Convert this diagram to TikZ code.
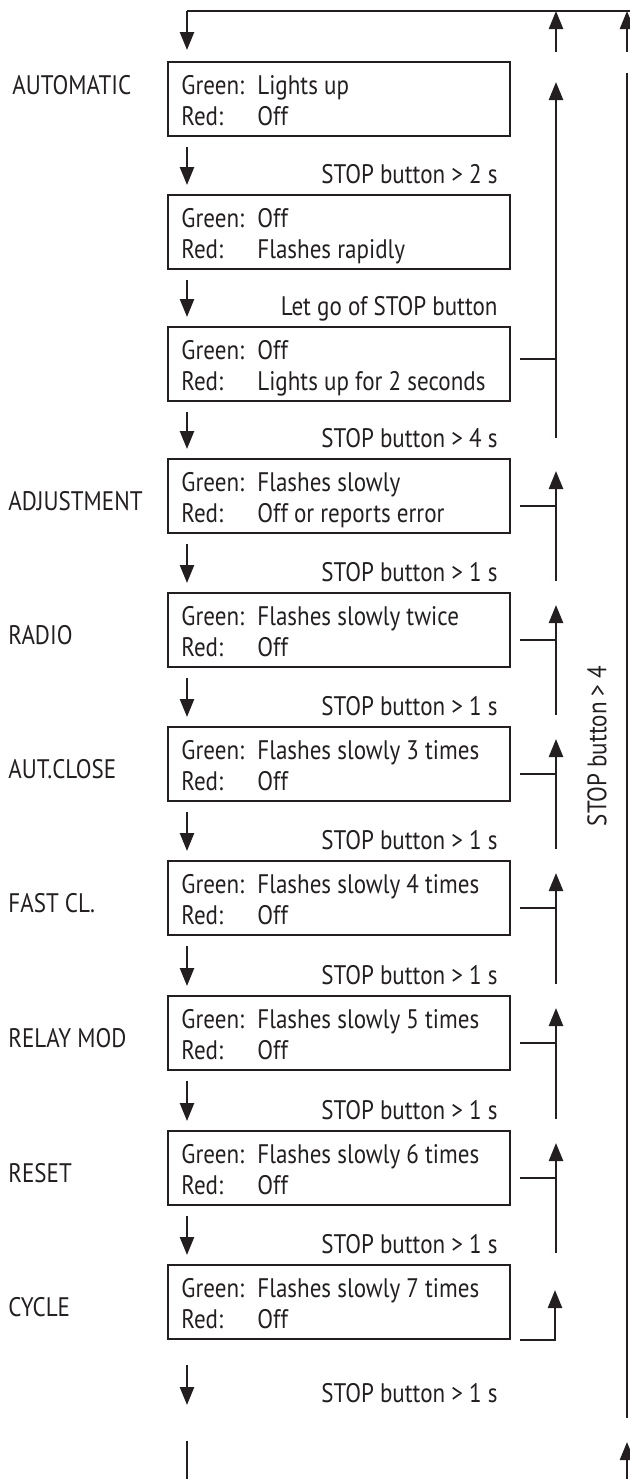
\documentclass[tikz,border=0pt]{standalone}
\usepackage{fontspec}
\setmainfont{PT Sans}[FakeStretch=0.86]
\usetikzlibrary{arrows.meta}
\definecolor{ink}{HTML}{231F20}
\begin{document}
\begin{tikzpicture}[x=0.5pt,y=-0.5pt,
  font=\fontsize{13.4pt}{15.5pt}\selectfont, color=ink,
  box/.style={draw, line width=1.4pt, minimum width=171pt, minimum height=37pt, anchor=north west, inner sep=0pt, outer sep=0pt},
  txt/.style={anchor=base west, inner sep=0pt},
  lbl/.style={anchor=base east, inner sep=0pt},
  mode/.style={anchor=base west, inner sep=0pt},
  conn/.style={line width=1.25pt},
  arr/.style={conn, -{Triangle[length=9pt,width=7pt]}},
]
\useasboundingbox (0,0) rectangle (630,1479);
% boxes
\foreach \k/\t/\g/\r in {1/62/Lights up/Off, 2/195/Off/Flashes rapidly, 3/327/Off/Lights up for 2 seconds, 4/459/Flashes slowly/Off or reports error, 5/593/Flashes slowly twice/Off, 6/727/Flashes slowly 3 times/Off, 7/861/Flashes slowly 4 times/Off, 8/996/Flashes slowly 5 times/Off, 9/1131/Flashes slowly 6 times/Off, 10/1265/Flashes slowly 7 times/Off}{
  \node[box] (b\k) at (168,\t) {};
  \node[txt] (g\k) at (181,{\t+32}) {Green:};
  \node[txt] (gv\k) at (257,{\t+32}) {\g};
  \node[txt] (r\k) at (181,{\t+63}) {Red:};
  \node[txt] (rv\k) at (257,{\t+63}) {\r};
}
% mode labels
\node[mode] (m1) at (12,94) {AUTOMATIC};
\foreach \k/\m in {4/ADJUSTMENT, 5/RADIO, 6/AUT.CLOSE, 7/FAST CL., 8/RELAY MOD, 9/RESET, 10/CYCLE}{
  \node[mode] (m\k) at ([shift={(-160,51)}]b\k.north west) {\m};
}
% step labels
\foreach \k/\s in {2/STOP button > 2 s, 3/Let go of STOP button, 4/STOP button > 4 s, 5/STOP button > 1 s, 6/STOP button > 1 s, 7/STOP button > 1 s, 8/STOP button > 1 s, 9/STOP button > 1 s, 10/STOP button > 1 s}{
  \node[lbl] (l\k) at ([shift={(-12,-12)}]b\k.north east) {\s};
}
\node[lbl] (lend) at ([shift={(-12,63)}]b10.south east) {STOP button > 1 s};
% down arrows
\coordinate (tl) at (187,11);
\coordinate (tr) at (630,11);
\draw[conn] (tr) -- (tl);
\draw[arr] (tl) -- ([shift={(19,-12)}]b1.north west);
\foreach \a/\b in {1/2,2/3,3/4,4/5,5/6,6/7,7/8,8/9,9/10}{
  \draw[arr] ([shift={(19,11)}]b\a.south west) -- ([shift={(19,-10)}]b\b.north west);
}
\draw[arr] ([shift={(19,26)}]b10.south west) -- ([shift={(19,66)}]b10.south west);
\coordinate (bl) at (187,1479);
\draw[conn] ([shift={(19,102)}]b10.south west) -- (bl);
% top up arrows
\draw[arr] (556,52) -- (556,11);
\draw[arr] (627,52) -- (627,11);
% return spine
\draw[arr] (556,438) -- (556,82);
\draw[conn] ([shift={(10,32)}]b3.north east) -- +(36,0);
\foreach \k/\n in {4/5,5/6,6/7,7/8,8/9,9/10}{
  \draw[arr] ([shift={(46,-12)}]b\n.north east) -- ([shift={(46,12)}]b\k.north east);
  \draw[conn] ([shift={(10,47)}]b\k.north east) -- ([shift={(46,47)}]b\k.north east);
}
\draw[arr] ([shift={(10,1)}]b10.south east) -| ([shift={(45,25)}]b10.north east);
% outer line
\draw[conn] (627,73) -- (627,1418);
\coordinate (br) at (627,1479);
\draw[arr] (br) -- (627,1442);
\node[rotate=90, inner sep=0pt] (s4) at (597,746) {STOP button > 4};
\end{tikzpicture}
\end{document}
